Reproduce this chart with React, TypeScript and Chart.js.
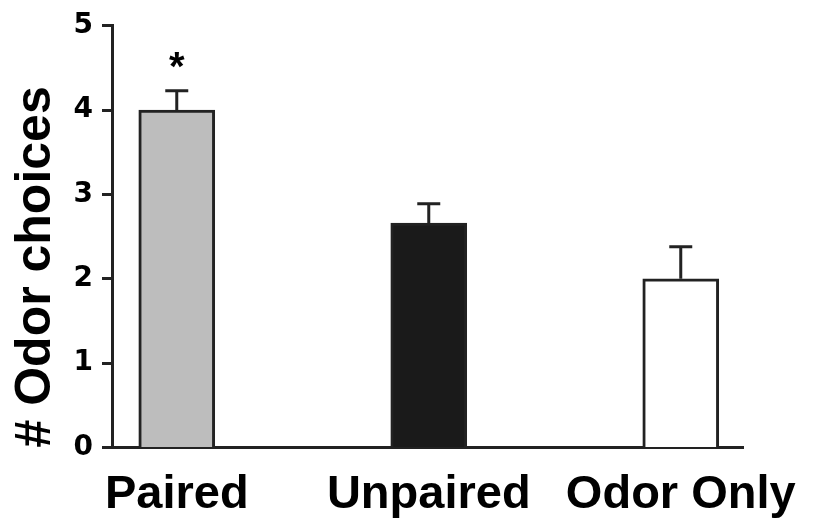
import React, { useEffect, useRef } from "react";
import { Chart, registerables } from "chart.js";

Chart.register(...registerables);

const categories = ["Paired", "Unpaired", "Odor Only"];
const means = [4.0, 2.66, 2.0];
const sems = [0.23, 0.23, 0.38];
const significance = ["*", "", ""];
const fills = ["#bdbdbd", "#1a1a1a", "#ffffff"];
const yTicks = [0, 1, 2, 3, 4, 5];

const FONT = "'Liberation Sans', Arial, Helvetica, sans-serif";
const TICK_FONT = "'DejaVu Sans', 'Liberation Sans', Arial, sans-serif";
const INK = "#222222";

const errorBarPlugin = {
  id: "errorBars",
  afterDatasetsDraw(chart: any) {
    const ctx = chart.ctx;
    const meta = chart.getDatasetMeta(0);
    const y = chart.scales.y;
    ctx.save();
    ctx.strokeStyle = INK;
    ctx.lineWidth = 3;
    meta.data.forEach((bar: any, i: number) => {
      const x = bar.x;
      const top = y.getPixelForValue(means[i]);
      const errTop = y.getPixelForValue(means[i] + sems[i]);
      ctx.beginPath();
      ctx.moveTo(x, top);
      ctx.lineTo(x, errTop);
      ctx.moveTo(x - 11.5, errTop);
      ctx.lineTo(x + 11.5, errTop);
      ctx.stroke();
      if (significance[i]) {
        ctx.fillStyle = "#000";
        ctx.font = `bold 40px ${FONT}`;
        ctx.textAlign = "center";
        ctx.textBaseline = "alphabetic";
        ctx.fillText(significance[i], x, errTop - 11);
      }
    });
    ctx.restore();
  },
};

export default function App() {
  const ref = useRef<HTMLCanvasElement | null>(null);

  useEffect(() => {
    document.body.style.margin = "0";
    if (!ref.current) return;
    const chart = new Chart(ref.current, {
      type: "bar",
      data: {
        datasets: [
          {
            data: means.map((v, i) => ({ x: i, y: v })),
            backgroundColor: fills,
            borderColor: INK,
            borderWidth: 3,
            barThickness: 76,
          } as any,
        ],
      },
      options: {
        animation: false,
        responsive: true,
        maintainAspectRatio: false,
        layout: { padding: { top: 25, right: 80, left: 0, bottom: 0 } },
        plugins: {
          legend: { display: false },
          tooltip: { enabled: false },
        },
        scales: {
          x: {
            type: "linear",
            offset: false,
            min: -0.257,
            max: 2.247,
            afterBuildTicks: (scale: any) => {
              scale.ticks = categories.map((_, i) => ({ value: i }));
            },
            afterFit: (scale: any) => {
              scale.height = 75.5;
            },
            ticks: {
              autoSkip: false,
              maxRotation: 0,
              padding: 19,
              color: "#000",
              font: { family: FONT, size: 47, weight: "bold" },
              callback: (v: any) => categories[v] ?? "",
            },
            grid: { display: false, drawTicks: false, offset: false },
            border: { display: true, color: INK, width: 3 },
          },
          y: {
            min: 0,
            max: 5,
            afterBuildTicks: (scale: any) => {
              scale.ticks = yTicks.map((v) => ({ value: v }));
            },
            afterFit: (scale: any) => {
              scale.width = 112;
            },
            ticks: {
              padding: 9,
              color: "#000",
              font: { family: TICK_FONT, size: 28, weight: "bold" },
            },
            grid: {
              drawOnChartArea: false,
              drawTicks: true,
              tickLength: 10,
              tickWidth: 3,
              color: INK,
            },
            border: { display: true, color: INK, width: 3 },
            title: {
              display: true,
              text: "# Odor choices",
              align: "start",
              color: "#000",
              padding: { top: 6, bottom: 0 },
              font: { family: FONT, size: 50, weight: "bold" },
            },
          },
        },
      } as any,
      plugins: [errorBarPlugin],
    });
    return () => chart.destroy();
  }, []);

  return (
    <div style={{ width: 823, height: 523, position: "relative" }}>
      <canvas ref={ref} />
    </div>
  );
}
